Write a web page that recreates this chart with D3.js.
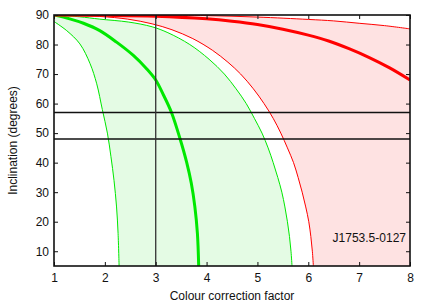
<!DOCTYPE html>
<html lang="en">
<head>
<meta charset="utf-8">
<script src="https://d3js.org/d3.v7.min.js"></script>
<style>
  body { margin: 0; background: #fff; }
  text { font-family: "Liberation Sans", Arial, sans-serif; font-size: 12px; fill: #111; }
</style>
</head>
<body>
<script>
// curves as [colour correction factor, inclination in degrees]
var greenLow = [[1.0, 87.8], [1.25, 84.7], [1.51, 80.2], [1.71, 73.5], [1.84, 66.7], [1.95, 58], [2.05, 50],
                [2.12, 42], [2.18, 34], [2.23, 25], [2.26, 16], [2.28, 5]];
var greenMid = [[1.0, 90], [1.31, 88.7], [1.58, 87.2], [1.9, 84.7], [2.23, 80.8], [2.56, 76.3], [2.82, 71.8],
                [3.0, 68], [3.15, 63], [3.31, 57], [3.48, 48], [3.61, 40], [3.70, 33], [3.77, 25], [3.82, 16], [3.845, 5]];
var greenHigh = [[1.0, 90], [1.5, 89.4], [1.9, 88.6], [2.47, 87.6], [2.93, 86], [3.24, 84], [3.67, 80],
                 [4.05, 75], [4.35, 70], [4.58, 65], [4.78, 60], [4.94, 55], [5.09, 50], [5.21, 45],
                 [5.31, 40], [5.40, 35], [5.48, 30], [5.54, 25], [5.59, 20], [5.63, 15], [5.66, 10], [5.68, 5]];
var redLow = [[1.0, 90], [1.9, 89.5], [2.45, 88.6], [2.93, 87], [3.32, 85], [3.73, 82], [4.12, 78],
              [4.42, 74], [4.67, 70], [4.92, 65], [5.13, 60], [5.31, 55], [5.46, 50], [5.59, 45],
              [5.71, 40], [5.80, 35], [5.88, 30], [5.95, 25], [6.01, 20], [6.05, 15], [6.08, 10], [6.10, 5]];
var redMid = [[1.0, 90], [2.0, 89.9], [3.0, 89.6], [4.0, 88.7], [4.5, 87.9], [5.0, 86.8], [5.5, 85.2],
              [6.0, 83.2], [6.4, 81.2], [6.8, 78.6], [7.2, 75.6], [7.6, 72.1], [8.0, 68]];
var redHigh = [[1.0, 90], [3.0, 89.95], [4.0, 89.8], [5.0, 89.3], [6.0, 88.5], [6.5, 88.0], [7.0, 87.2],
               [7.5, 86.4], [8.0, 85.3]];

var hLines = [57, 48];
var vLines = [3];
var xTicks = [1, 2, 3, 4, 5, 6, 7, 8];
var yTicks = [10, 20, 30, 40, 50, 60, 70, 80, 90];
var label = "J1753.5-0127";

var width = 431, height = 302;
var pLeft = 54, pRight = 410, pTop = 15, pBottom = 266;

var svg = d3.select("body").append("svg")
    .attr("width", width)
    .attr("height", height);

var x = d3.scaleLinear().domain([1, 8]).range([pLeft, pRight]);
var y = d3.scaleLinear().domain([5, 90]).range([pBottom, pTop]);

svg.append("clipPath").attr("id", "plot")
  .append("rect")
    .attr("x", pLeft).attr("y", pTop)
    .attr("width", pRight - pLeft).attr("height", pBottom - pTop);

var g = svg.append("g").attr("clip-path", "url(#plot)");

var line = d3.line()
    .x(function(d) { return x(d[0]); })
    .y(function(d) { return y(d[1]); })
    .curve(d3.curveCatmullRom);

var poly = d3.line()
    .x(function(d) { return x(d[0]); })
    .y(function(d) { return y(d[1]); });

// filled bands
var redBand = redLow.slice().reverse().concat(redHigh, [[8, 5]]);
g.append("path")
    .attr("d", poly(redBand) + "Z")
    .attr("fill", "#fee2e2");

var greenBand = greenLow.slice().reverse().concat(greenHigh);
g.append("path")
    .attr("d", poly(greenBand) + "Z")
    .attr("fill", "#e4fbe4");

// curves
var curves = [
  { data: greenLow, color: "#00e800", w: 1 },
  { data: greenHigh, color: "#00e800", w: 1 },
  { data: greenMid, color: "#00e800", w: 3 },
  { data: redLow, color: "#ff0000", w: 1 },
  { data: redHigh, color: "#ff0000", w: 1 },
  { data: redMid, color: "#ff0000", w: 3 }
];
curves.forEach(function(c) {
  g.append("path")
      .attr("d", line(c.data))
      .attr("fill", "none")
      .attr("stroke", c.color)
      .attr("stroke-width", c.w);
});

// reference lines
g.selectAll(".hline").data(hLines).enter().append("line")
    .attr("x1", pLeft).attr("x2", pRight)
    .attr("y1", function(d) { return y(d); })
    .attr("y2", function(d) { return y(d); })
    .attr("stroke", "#111")
    .attr("stroke-width", 1.6);

g.selectAll(".vline").data(vLines).enter().append("line")
    .attr("x1", function(d) { return x(d); })
    .attr("x2", function(d) { return x(d); })
    .attr("y1", pTop).attr("y2", pBottom)
    .attr("stroke", "#333")
    .attr("stroke-width", 1.3);

// axes with inward ticks
function styleAxis(sel) {
  sel.select(".domain").remove();
  sel.selectAll(".tick line").attr("stroke", "#111");
  sel.selectAll("text").attr("font-size", "12px").attr("fill", "#111")
     .attr("font-family", "\"Liberation Sans\", Arial, sans-serif");
}

svg.append("g").attr("transform", "translate(0," + pBottom + ")")
    .call(d3.axisBottom(x).tickValues(xTicks).tickSize(-4).tickPadding(7).tickFormat(d3.format("d")))
    .call(styleAxis);
svg.append("g").attr("transform", "translate(" + pLeft + ",0)")
    .call(d3.axisLeft(y).tickValues(yTicks).tickSize(-4).tickPadding(5).tickFormat(d3.format("d")))
    .call(styleAxis);
svg.append("g").attr("transform", "translate(0," + pTop + ")")
    .call(d3.axisTop(x).tickValues(xTicks).tickSize(-4).tickFormat(""))
    .call(styleAxis);
svg.append("g").attr("transform", "translate(" + pRight + ",0)")
    .call(d3.axisRight(y).tickValues(yTicks).tickSize(-4).tickFormat(""))
    .call(styleAxis);

svg.append("rect")
    .attr("x", pLeft).attr("y", pTop)
    .attr("width", pRight - pLeft).attr("height", pBottom - pTop)
    .attr("fill", "none")
    .attr("stroke", "#111")
    .attr("stroke-width", 1.6);

// labels
svg.append("text")
    .attr("x", (pLeft + pRight) / 2)
    .attr("y", 300)
    .attr("text-anchor", "middle")
    .text("Colour correction factor");

svg.append("text")
    .attr("transform", "translate(17," + ((pTop + pBottom) / 2) + ") rotate(-90)")
    .attr("text-anchor", "middle")
    .text("Inclination (degrees)");

svg.append("text")
    .attr("x", 406)
    .attr("y", 241.5)
    .attr("text-anchor", "end")
    .text(label);
</script>
</body>
</html>
